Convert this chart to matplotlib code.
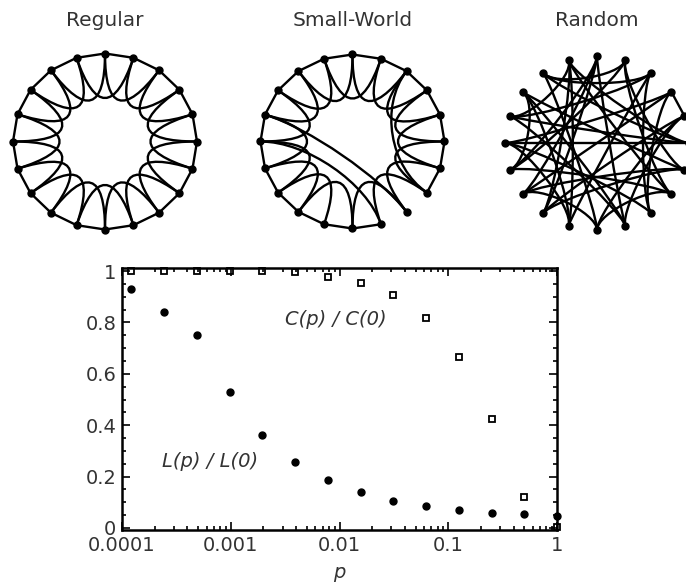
import numpy as np
import matplotlib.pyplot as plt
from matplotlib.path import Path
from matplotlib.patches import PathPatch
from matplotlib.ticker import MultipleLocator, LogLocator, NullFormatter

# rewiring probability (2^-13 ... 1)
p = [0.000122, 0.000244, 0.000488, 0.000977, 0.00195, 0.00391, 0.00781,
     0.0156, 0.0313, 0.0625, 0.125, 0.25, 0.5, 1.0]
c_ratio = [1.0, 1.0, 1.0, 1.0, 1.0, 0.996, 0.977, 0.953, 0.907, 0.817,
           0.665, 0.424, 0.121, 0.004]
l_ratio = [0.93, 0.84, 0.75, 0.53, 0.363, 0.258, 0.1875, 0.141, 0.105,
           0.086, 0.07, 0.059, 0.055, 0.047]

x_ticks = [0.0001, 0.001, 0.01, 0.1, 1]
x_labels = ["0.0001", "0.001", "0.01", "0.1", "1"]
y_ticks = [0, 0.2, 0.4, 0.6, 0.8, 1]
y_labels = ["0", "0.2", "0.4", "0.6", "0.8", "1"]

titles = ["Regular", "Small-World", "Random"]

n_nodes = 20
# small-world: lattice edges that got rewired -> new edge
sw_rewired = {(8, 9): (8, 16), (9, 11): (9, 15), (7, 8): (7, 2)}
random_edges = [(0, 9), (0, 12), (1, 7), (1, 14), (2, 11), (2, 16), (3, 4), (3, 13),
                (4, 10), (5, 15), (5, 18), (6, 12), (6, 17), (7, 19), (8, 15), (8, 2),
                (9, 17), (10, 18), (11, 19), (12, 4), (13, 6), (14, 0), (15, 3), (16, 9),
                (17, 11), (18, 1), (19, 5), (10, 13), (14, 7), (16, 5), (12, 19), (3, 8),
                (6, 1), (17, 14), (2, 18), (9, 4), (11, 15), (13, 0), (7, 10), (16, 19)]

W, H = 686, 584
fig = plt.figure(figsize=(W / 100, H / 100), dpi=100)
text_col = "#333333"


def lattice_edges(n):
    edges = []
    for i in range(n):
        edges.append((i, (i + 1) % n))
        edges.append((i, (i + 2) % n))
    return edges


def draw_network(cx, cy, rx, ry, edges, title, pull):
    lim = 1.12
    w, h = 2 * lim * rx, 2 * lim * ry
    ax = fig.add_axes([(cx - w / 2) / W, 1 - (cy + h / 2) / H, w / W, h / H])
    ax.set_xlim(-lim, lim)
    ax.set_ylim(-lim, lim)
    ax.axis("off")
    ang = np.pi / 2 - 2 * np.pi * np.arange(n_nodes) / n_nodes
    pos = np.column_stack([np.cos(ang), np.sin(ang)])
    for i, j in edges:
        gap = min(abs(i - j), n_nodes - abs(i - j))
        p0, p3 = pos[i], pos[j]
        if gap == 1:
            verts = [p0, p3]
            codes = [Path.MOVETO, Path.LINETO]
        else:
            a = 0.36 if gap == 2 else pull
            verts = [p0, p0 * a, p3 * a, p3]
            codes = [Path.MOVETO, Path.CURVE4, Path.CURVE4, Path.CURVE4]
        ax.add_patch(PathPatch(Path(verts, codes), fc="none", ec="black",
                               lw=1.7, clip_on=False, capstyle="round"))
    ax.plot(pos[:, 0], pos[:, 1], "o", color="black", ms=5, clip_on=False, zorder=3)
    fig.text(cx / W, 1 - 21 / H, title, ha="center", va="center",
             fontsize=14.5, color=text_col)


regular = lattice_edges(n_nodes)
small_world = [sw_rewired.get(e, e) for e in lattice_edges(n_nodes)]

draw_network(105, 141.5, 92, 88, regular, titles[0], 0.5)
draw_network(352.5, 141.5, 92, 87, small_world, titles[1], 0.5)
draw_network(597, 143, 92, 87, random_edges, titles[2], 0.8)

# bottom panel
ax = fig.add_axes([122 / W, 1 - 530 / H, (557 - 122) / W, (530 - 268) / H])
ax.set_xscale("log")
ax.set_xlim(0.0001, 1)
ax.set_ylim(-0.008, 1.012)
ax.plot(p, c_ratio, "s", mfc="none", mec="black", ms=5, mew=1.3, clip_on=False)
ax.plot(p, l_ratio, "o", color="black", ms=5, clip_on=False)

ax.set_xticks(x_ticks)
ax.set_xticklabels(x_labels)
ax.xaxis.set_minor_locator(LogLocator(base=10, subs=np.arange(2, 10)))
ax.xaxis.set_minor_formatter(NullFormatter())
ax.set_yticks(y_ticks)
ax.set_yticklabels(y_labels)
ax.yaxis.set_minor_locator(MultipleLocator(0.05))
ax.tick_params(which="both", direction="in", top=True, right=True,
               labelsize=14, labelcolor=text_col, width=1.2)
ax.tick_params(which="major", length=6, pad=4)
ax.tick_params(which="minor", length=3)
for s in ax.spines.values():
    s.set_linewidth(1.8)

ax.set_xlabel("p", style="italic", fontsize=14, color=text_col, labelpad=6)
ax.text(0.00316, 0.81, "C(p) / C(0)", style="italic", fontsize=14,
        color=text_col, va="center", ha="left")
ax.text(0.000233, 0.258, "L(p) / L(0)", style="italic", fontsize=14,
        color=text_col, va="center", ha="left")

fig.savefig("out.png", dpi=100)
